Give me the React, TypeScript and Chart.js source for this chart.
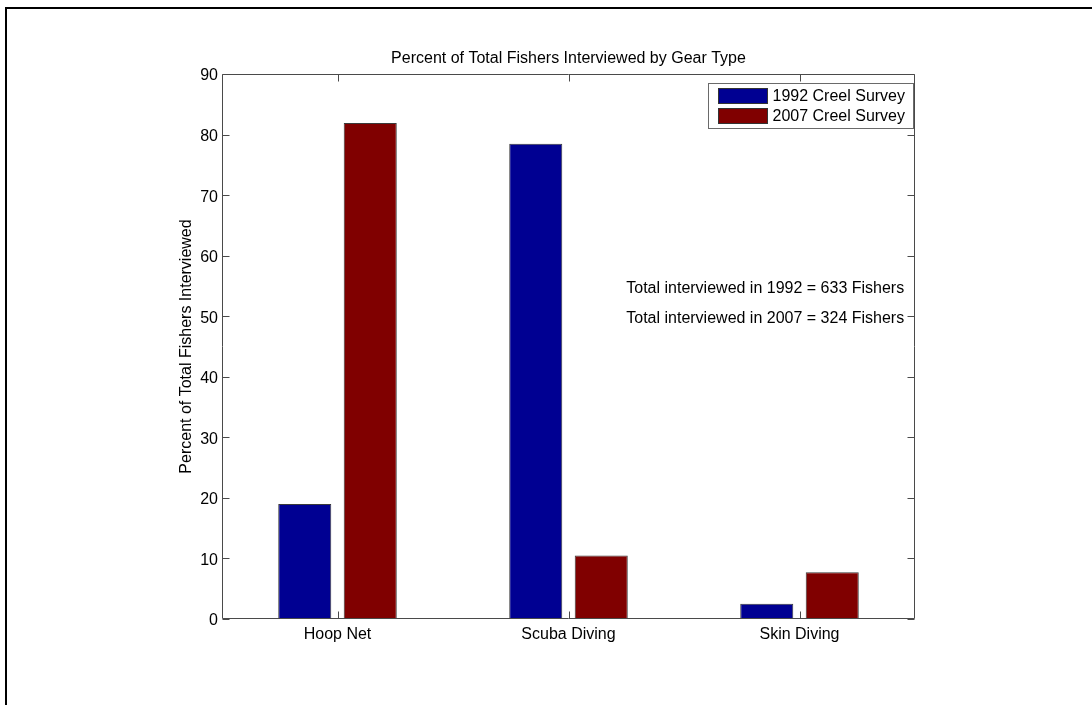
import { useEffect, useRef } from 'react';
import { Chart, registerables } from 'chart.js';

Chart.register(...registerables);

// Gear types surveyed and the share of fishers using each one (percent)
const categories = ['Hoop Net', 'Scuba Diving', 'Skin Diving'];
const seriesLabels = ['1992 Creel Survey', '2007 Creel Survey'];
const survey1992 = [19.0, 78.5, 2.5];
const survey2007 = [81.9, 10.5, 7.7];
const seriesColors = ['#000092', '#800000'];

const yTicks = [0, 10, 20, 30, 40, 50, 60, 70, 80, 90];

const chartTitle = 'Percent of Total Fishers Interviewed by Gear Type';
const yAxisTitle = 'Percent of Total Fishers Interviewed';

// Notes placed in data coordinates (x as a fractional category index)
const noteLines = [
  'Total interviewed in 1992 = 633 Fishers',
  'Total interviewed in 2007 = 324 Fishers',
];
const noteX = [1.25, 1.25];
const noteY = [55, 50];

const FONT = "'Liberation Sans', Arial, Helvetica, sans-serif";
const AXIS_COLOR = '#4a4a4a';
const TICK_LEN = 7;

// Outer figure frame
const framePlugin = {
  id: 'figureFrame',
  beforeDraw(chart: any) {
    const { ctx } = chart;
    ctx.save();
    ctx.fillStyle = '#ffffff';
    ctx.fillRect(0, 0, chart.width, chart.height);
    ctx.strokeStyle = '#000000';
    ctx.lineWidth = 2;
    ctx.strokeRect(6, 8, chart.width + 100, chart.height + 100);
    ctx.restore();
  },
};

// Title centred over the axes box
const axesTitlePlugin = {
  id: 'axesTitle',
  afterDraw(chart: any) {
    const { ctx, chartArea: a } = chart;
    ctx.save();
    ctx.font = `16px ${FONT}`;
    ctx.fillStyle = '#000000';
    ctx.textAlign = 'center';
    ctx.textBaseline = 'middle';
    ctx.fillText(chartTitle, (a.left + a.right) / 2, a.top - 15.5);
    ctx.restore();
  },
};

// Boxed axes with inward-pointing ticks on all four sides
const axesBoxPlugin = {
  id: 'axesBox',
  afterDatasetsDraw(chart: any) {
    const { ctx, chartArea: a, scales } = chart;
    const x = scales.x;
    const y = scales.y;
    const L = Math.round(a.left) + 0.5;
    const R = Math.round(a.right) - 0.5;
    const T = Math.round(a.top) + 0.5;
    const B = Math.round(a.bottom) - 0.5;
    ctx.save();
    ctx.strokeStyle = AXIS_COLOR;
    ctx.lineWidth = 1;
    ctx.beginPath();
    ctx.rect(L, T, R - L, B - T);
    y.ticks.forEach((t: any) => {
      const py = Math.round(y.getPixelForValue(t.value)) + 0.5;
      ctx.moveTo(L, py);
      ctx.lineTo(L + TICK_LEN, py);
      ctx.moveTo(R, py);
      ctx.lineTo(R - TICK_LEN, py);
    });
    categories.forEach((_, i) => {
      const px = Math.round(x.getPixelForValue(i)) + 0.5;
      ctx.moveTo(px, B);
      ctx.lineTo(px, B - TICK_LEN);
      ctx.moveTo(px, T);
      ctx.lineTo(px, T + TICK_LEN);
    });
    ctx.stroke();
    ctx.restore();
  },
};

// Text notes anchored to data coordinates
const notesPlugin = {
  id: 'notes',
  afterDraw(chart: any) {
    const { ctx, scales } = chart;
    ctx.save();
    ctx.font = `16px ${FONT}`;
    ctx.fillStyle = '#000000';
    ctx.textAlign = 'left';
    ctx.textBaseline = 'middle';
    noteLines.forEach((line, i) => {
      const px = scales.x.getPixelForValue(noteX[i]);
      const py = scales.y.getPixelForValue(noteY[i]);
      ctx.fillText(line, px, py + 2.5);
    });
    ctx.restore();
  },
};

// Boxed legend in the upper-right corner of the axes
const boxLegendPlugin = {
  id: 'boxLegend',
  afterDraw(chart: any) {
    const { ctx, chartArea: a } = chart;
    const datasets = chart.data.datasets;
    ctx.save();
    ctx.font = `16px ${FONT}`;
    const textW = Math.max(...datasets.map((d: any) => ctx.measureText(d.label).width));
    const pad = 10;
    const sw = 49;
    const sh = 15;
    const gap = 5;
    const rowH = 20;
    const boxW = Math.round(pad + sw + gap + textW + 8);
    const boxH = 45;
    const bx = Math.round(a.right) - 2 - boxW + 0.5;
    const by = Math.round(a.top) + 9 + 0.5;
    ctx.fillStyle = '#ffffff';
    ctx.fillRect(bx, by, boxW, boxH);
    ctx.strokeStyle = '#6a6a6a';
    ctx.lineWidth = 1;
    ctx.strokeRect(bx, by, boxW, boxH);
    datasets.forEach((d: any, i: number) => {
      const sx = bx + pad;
      const sy = by + 5 + i * rowH;
      ctx.fillStyle = d.backgroundColor;
      ctx.fillRect(sx, sy, sw, sh);
      ctx.strokeStyle = '#333333';
      ctx.strokeRect(sx, sy, sw, sh);
      ctx.fillStyle = '#000000';
      ctx.textAlign = 'left';
      ctx.textBaseline = 'middle';
      ctx.fillText(d.label, sx + sw + gap, sy + sh / 2 + 1);
    });
    ctx.restore();
  },
};

export default function App() {
  const canvasRef = useRef<HTMLCanvasElement | null>(null);

  useEffect(() => {
    const canvas = canvasRef.current;
    if (!canvas) return;
    Chart.defaults.font.family = FONT;

    const chart = new Chart(canvas, {
      type: 'bar',
      data: {
        labels: categories,
        datasets: [
          {
            label: seriesLabels[0],
            data: survey1992,
            backgroundColor: seriesColors[0],
            borderColor: '#3a3a3a',
            borderWidth: 1,
            categoryPercentage: 0.567,
            barPercentage: 0.81,
          },
          {
            label: seriesLabels[1],
            data: survey2007,
            backgroundColor: seriesColors[1],
            borderColor: '#3a3a3a',
            borderWidth: 1,
            categoryPercentage: 0.567,
            barPercentage: 0.81,
          },
        ],
      },
      options: {
        responsive: false,
        animation: false,
        devicePixelRatio: 1,
        layout: { padding: { left: 0, right: 177, top: 74, bottom: 0 } },
        plugins: {
          legend: { display: false },
          tooltip: { enabled: false },
          title: { display: false },
        },
        scales: {
          x: {
            type: 'category',
            offset: true,
            grid: { display: false, drawTicks: false },
            border: { display: false },
            ticks: {
              color: '#000000',
              font: { size: 16, family: FONT },
              padding: 6,
              maxRotation: 0,
              autoSkip: false,
            },
            afterFit: (s: any) => {
              s.height = 86;
            },
          },
          y: {
            type: 'linear',
            min: 0,
            max: 90,
            grid: { display: false, drawTicks: false },
            border: { display: false },
            ticks: {
              color: '#000000',
              font: { size: 16, family: FONT },
              padding: 4,
              labelOffset: 2,
            },
            afterBuildTicks: (s: any) => {
              s.ticks = yTicks.map((v) => ({ value: v }));
            },
            title: {
              display: true,
              text: yAxisTitle,
              color: '#000000',
              font: { size: 16, family: FONT, lineHeight: 1.2 },
              padding: { top: 177, bottom: 0 },
            },
            afterFit: (s: any) => {
              s.width = 222;
            },
          },
        },
      },
      plugins: [framePlugin, axesBoxPlugin, notesPlugin, boxLegendPlugin, axesTitlePlugin],
    } as any);

    return () => {
      chart.destroy();
    };
  }, []);

  return (
    <div style={{ position: 'absolute', left: 0, top: 0, width: 1092, height: 705 }}>
      <canvas ref={canvasRef} width={1092} height={705} />
    </div>
  );
}
